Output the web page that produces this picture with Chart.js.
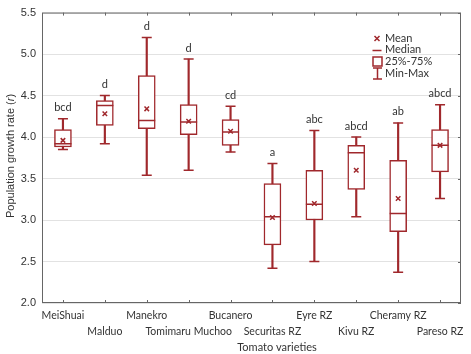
<!DOCTYPE html>
<html>
<head>
<meta charset="utf-8">
<script src="https://cdn.jsdelivr.net/npm/chart.js@4"></script>
<style>
    body { margin: 0; background: #fff; }
    #wrap { width: 471px; height: 354px; }
</style>
</head>
<body>
<div id="wrap"><canvas id="chart" width="471" height="354"></canvas></div>
<script>
const varieties = ['MeiShuai', 'Malduo', 'Manekro', 'Tomimaru Muchoo', 'Bucanero',
    'Securitas RZ', 'Eyre RZ', 'Kivu RZ', 'Cheramy RZ', 'Pareso RZ'];
const minVals    = [3.85, 3.92, 3.54, 3.60, 3.82, 2.42, 2.50, 3.04, 2.37, 3.26];
const q1Vals     = [3.88, 4.14, 4.10, 4.03, 3.90, 2.70, 3.00, 3.37, 2.86, 3.58];
const medianVals = [3.92, 4.38, 4.20, 4.18, 4.06, 3.04, 3.19, 3.81, 3.08, 3.90];
const q3Vals     = [4.09, 4.44, 4.74, 4.39, 4.21, 3.44, 3.60, 3.90, 3.72, 4.09];
const maxVals    = [4.22, 4.50, 5.20, 4.94, 4.37, 3.68, 4.08, 4.00, 4.17, 4.39];
const meanVals   = [3.96, 4.28, 4.34, 4.19, 4.07, 3.03, 3.20, 3.60, 3.26, 3.90];
const letters    = ['bcd', 'd', 'd', 'd', 'cd', 'a', 'abc', 'abcd', 'ab', 'abcd'];
const yTicks     = [2.0, 2.5, 3.0, 3.5, 4.0, 4.5, 5.0, 5.5];

const RED = '#a0282c';
const TEXT = '#333';

// staggered category labels: even on first row, odd on second
const labels = varieties.map((name, i) => i % 2 === 0 ? [name, ''] : ['', name]);

// frame, inner ticks, axis titles, group letters and legend
const decorations = {
    id: 'decorations',
    afterDatasetsDraw(chart) {
        const { ctx, scales: { x, y } } = chart;
        ctx.save();

        // letters above each whisker
        ctx.fillStyle = TEXT;
        ctx.font = '11px Lato';
        ctx.textAlign = 'center';
        ctx.textBaseline = 'middle';
        letters.forEach((l, i) => {
            ctx.fillText(l, x.getPixelForValue(i), y.getPixelForValue(maxVals[i]) - 11);
        });
        ctx.restore();
    },
    afterDraw(chart) {
        const { ctx, chartArea: a, scales: { x, y } } = chart;
        ctx.save();

        // frame
        ctx.strokeStyle = '#666';
        ctx.lineWidth = 1;
        ctx.strokeRect(a.left + 0.5, a.top + 0.5, a.right - a.left - 1, a.bottom - a.top - 1);

        // small inner ticks
        ctx.beginPath();
        varieties.forEach((v, i) => {
            const px = Math.round(x.getPixelForValue(i)) + 0.5;
            ctx.moveTo(px, a.bottom); ctx.lineTo(px, a.bottom - 3);
            ctx.moveTo(px, a.top); ctx.lineTo(px, a.top + 3);
        });
        yTicks.forEach(t => {
            const py = Math.round(y.getPixelForValue(t)) + 0.5;
            ctx.moveTo(a.right, py); ctx.lineTo(a.right - 3, py);
        });
        ctx.stroke();

        // x axis title
        ctx.fillStyle = TEXT;
        ctx.font = '11px Lato';
        ctx.textAlign = 'center';
        ctx.textBaseline = 'middle';
        ctx.fillText('Tomato varieties', 277, 347);

        // y axis title with italic r
        ctx.translate(11, 156);
        ctx.rotate(-Math.PI / 2);
        ctx.textAlign = 'left';
        const normal = '11px "Liberation Sans"';
        const italic = 'italic 11px "Liberation Sans"';
        const parts = [['Population growth rate (', normal], ['r', italic], [')', normal]];
        let total = 0;
        parts.forEach(([t, f]) => { ctx.font = f; total += ctx.measureText(t).width; });
        let cx = -total / 2;
        parts.forEach(([t, f]) => {
            ctx.font = f;
            ctx.fillText(t, cx, 0);
            cx += ctx.measureText(t).width;
        });
        ctx.setTransform(1, 0, 0, 1, 0, 0);

        // legend
        const lx = 377;
        ctx.strokeStyle = RED;
        ctx.lineWidth = 1.5;
        ctx.beginPath();
        ctx.moveTo(lx - 2.5, 36); ctx.lineTo(lx + 2.5, 41);
        ctx.moveTo(lx + 2.5, 36); ctx.lineTo(lx - 2.5, 41);
        ctx.moveTo(lx - 4.5, 50.5); ctx.lineTo(lx + 4.5, 50.5);
        ctx.stroke();
        ctx.strokeRect(lx - 4, 57, 9, 9);
        ctx.beginPath();
        ctx.moveTo(lx + 0.5, 68); ctx.lineTo(lx + 0.5, 79);
        ctx.moveTo(lx - 4, 68); ctx.lineTo(lx + 5, 68);
        ctx.moveTo(lx - 4, 79); ctx.lineTo(lx + 5, 79);
        ctx.stroke();

        ctx.fillStyle = TEXT;
        ctx.font = '11px Lato';
        ctx.textAlign = 'left';
        ctx.textBaseline = 'middle';
        ctx.fillText('Mean', 385, 38);
        ctx.fillText('Median', 385, 49.5);
        ctx.fillText('25%-75%', 385, 61.5);
        ctx.fillText('Min-Max', 385, 73.5);
        ctx.restore();
    }
};

new Chart(document.getElementById('chart'), {
    type: 'bar',
    data: {
        labels: labels,
        datasets: [
            {
                label: 'Min-Max',
                data: minVals.map((v, i) => [v, maxVals[i]]),
                backgroundColor: RED,
                barThickness: 1.5,
                grouped: false,
                order: 5
            },
            {
                label: '25%-75%',
                data: q1Vals.map((v, i) => [v, q3Vals[i]]),
                backgroundColor: '#fff',
                borderColor: RED,
                borderWidth: 1.5,
                borderSkipped: false,
                barThickness: 17,
                grouped: false,
                order: 4
            },
            {
                type: 'line',
                label: 'Max cap',
                data: maxVals,
                showLine: false,
                pointStyle: 'line',
                pointRadius: 5,
                pointBorderColor: RED,
                pointBorderWidth: 1.5,
                order: 3
            },
            {
                type: 'line',
                label: 'Min cap',
                data: minVals,
                showLine: false,
                pointStyle: 'line',
                pointRadius: 5,
                pointBorderColor: RED,
                pointBorderWidth: 1.5,
                order: 3
            },
            {
                type: 'line',
                label: 'Median',
                data: medianVals,
                showLine: false,
                pointStyle: 'line',
                pointRadius: 8.5,
                pointBorderColor: RED,
                pointBorderWidth: 1.5,
                order: 2
            },
            {
                type: 'line',
                label: 'Mean',
                data: meanVals,
                showLine: false,
                pointStyle: 'crossRot',
                pointRadius: 3.2,
                pointBorderColor: RED,
                pointBorderWidth: 1.5,
                order: 1
            }
        ]
    },
    options: {
        responsive: false,
        animation: false,
        events: [],
        layout: { padding: { top: 10, right: 2, left: 0, bottom: 0 } },
        plugins: {
            legend: { display: false },
            tooltip: { enabled: false }
        },
        scales: {
            x: {
                offset: true,
                grid: { display: false, drawTicks: false },
                border: { display: false },
                ticks: {
                    color: TEXT,
                    font: { family: 'Lato', size: 10.5, lineHeight: 1.5 },
                    maxRotation: 0,
                    autoSkip: false,
                    padding: 5
                },
                afterFit: scale => { scale.height = 51; }
            },
            y: {
                min: 2,
                max: 5.5,
                grid: { color: '#e2e2e2', drawTicks: false },
                border: { display: false },
                ticks: {
                    stepSize: 0.5,
                    color: TEXT,
                    padding: 6,
                    font: { family: 'Liberation Sans', size: 11 },
                    callback: v => v.toFixed(1)
                },
                afterFit: scale => { scale.width = 42; }
            }
        }
    },
    plugins: [decorations]
});
</script>
</body>
</html>
